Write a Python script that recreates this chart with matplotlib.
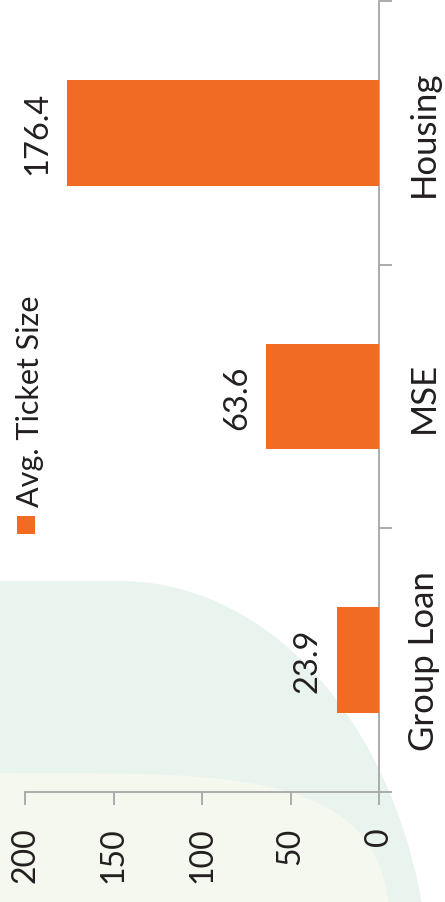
import numpy as np
import matplotlib
matplotlib.use("Agg")
import matplotlib.pyplot as plt
from matplotlib.patches import Polygon, Rectangle

categories = ["Group Loan", "MSE", "Housing"]
values = [23.9, 63.6, 176.4]
value_labels = ["23.9", "63.6", "176.4"]
xticks = [0, 50, 100, 150, 200]
series_name = "Avg. Ticket Size"

W, H = 445, 903
plt.rcParams['font.family'] = ['Lato', 'DejaVu Sans']
TXT = '#231f20'
GRAY = '#a6a6a6'
ORANGE = '#f26b24'

fig = plt.figure(figsize=(W / 100, H / 100), dpi=100)
fig.patch.set_facecolor('white')

def px(x, y):
    return (x / W, 1 - y / H)

# background decorations (pixel coords from top)
t = np.linspace(0, np.pi / 2, 80)
cx, cy, rx, ry = 120, 1000, 310, 418
pts = [(-10, 1000), (-10, cy - ry)] + [(cx + rx * np.cos(a), cy - ry * np.sin(a)) for a in t[::-1]]
fig.patches.append(Polygon([px(x, y) for x, y in pts], closed=True,
                           transform=fig.transFigure, facecolor='#e9f4ee',
                           edgecolor='none', zorder=-2))
n = 4.0
cx2, cy2, rx2, ry2 = 0, 1000, 392, 226
pts2 = []
for a in np.linspace(0, np.pi / 2, 80):
    c, s = np.cos(a), np.sin(a)
    pts2.append((cx2 + rx2 * abs(c) ** (2 / n), cy2 - ry2 * abs(s) ** (2 / n)))
pts2 = [(-10, 1000), (-10, cy2 - ry2)] + pts2[::-1]
fig.patches.append(Polygon([px(x, y) for x, y in pts2], closed=True,
                           transform=fig.transFigure, facecolor='#f4f8ee',
                           edgecolor='none', zorder=-1))

ax = fig.add_axes([25 / W, 1 - 793 / H, (379 - 25) / W, (793 - 2) / H])
ax.set_zorder(2)
ax.set_facecolor('none')
ypos = np.arange(len(categories))
ax.barh(ypos, values, height=0.4, color=ORANGE, zorder=3)
ax.set_xlim(200, 0)
ax.set_ylim(-0.5, len(categories) - 0.5)

for sp in ['top', 'left']:
    ax.spines[sp].set_visible(False)
for sp in ['bottom', 'right']:
    ax.spines[sp].set_color(GRAY)
    ax.spines[sp].set_linewidth(1.3)

ax.set_xticks(xticks)
ax.set_xticklabels([str(v) for v in xticks], rotation=90, va='top', ha='center')
ax.tick_params(axis='x', length=9, width=1.3, color=GRAY, pad=16, labelsize=23, labelcolor=TXT)

ax.yaxis.tick_right()
ax.set_yticks(ypos)
ax.set_yticklabels(categories, rotation=90, va='center', ha='left')
ax.set_yticks(np.arange(-0.5, len(categories), 1.0), minor=True)
ax.tick_params(axis='y', which='major', length=0, pad=21, labelsize=25, labelcolor=TXT)
ax.tick_params(axis='y', which='minor', length=9, width=1.3, color=GRAY)

for yv, v, lab in zip(ypos, values, value_labels):
    ax.annotate(lab, xy=(v, yv), xytext=(-14, 0), textcoords='offset pixels',
                rotation=90, ha='right', va='center', fontsize=23.5, color=TXT)

# legend
fig.patches.append(Rectangle(px(17, 535), 18 / W, 18 / H, transform=fig.transFigure,
                             facecolor=ORANGE, edgecolor='none', zorder=3))
fig.text(16 / W, 1 - 507 / H, series_name, rotation=90, ha='left', va='bottom',
         fontsize=22, color=TXT, zorder=3)

fig.savefig('out.png', dpi=100)
